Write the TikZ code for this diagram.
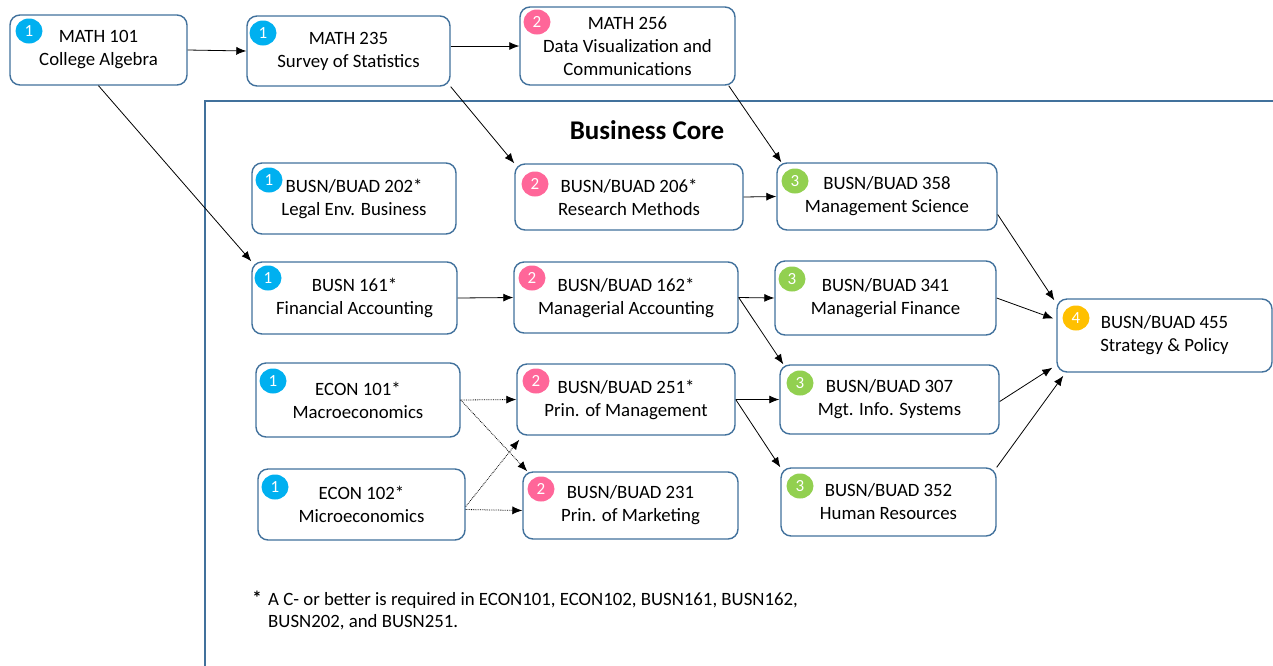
\documentclass[tikz,border=0pt]{standalone}
\usepackage{fontspec}
\setmainfont{Carlito}
\usetikzlibrary{arrows.meta,shapes.geometric}
\definecolor{bord}{HTML}{41719C}
\definecolor{bcyan}{HTML}{00B0F0}
\definecolor{bpink}{HTML}{FF6699}
\definecolor{bgreen}{HTML}{92D050}
\definecolor{byellow}{HTML}{FFC000}
\newcommand\crs[6]{%
  \node[box, minimum width={#4-#2}, minimum height={#5-#3}] (#1) at ({(#2+#4)/2},{(#3+#5)/2}) {#6};}
\begin{document}
\begin{tikzpicture}[x=1pt,y=-1pt,
  box/.style={draw=bord, line width=1.4pt, rounded corners=10pt, fill=white, align=center,
    inner sep=0pt, font=\fontsize{18.8}{23}\selectfont},
  badge/.style={ellipse, fill=#1, text=white, minimum width=27pt, minimum height=25pt,
    inner sep=0pt, font=\fontsize{17}{17}\selectfont},
  link/.style={-{Latex[length=10pt,width=8pt]}, line width=0.8pt},
  dlink/.style={link, densely dotted}]
\useasboundingbox (0,0) rectangle (1273,665);
\clip (0,0) rectangle (1273,665);
% frame
\draw[bord, line width=1.8pt] (205,680) -- (205,101) -- (1290,101);
\node[font=\fontsize{27}{32}\selectfont\bfseries] (title) at (647,130) {Business Core};
% boxes
\crs{m101}{10}{15}{187}{85}{MATH 101\\College Algebra}
\crs{m235}{247}{16}{450}{86}{MATH 235\\Survey of Statistics}
\crs{m256}{520}{7}{735}{85}{MATH 256\\Data Visualization and\\Communications}
\crs{b202}{252}{163}{456}{234}{BUSN/BUAD 202*\\Legal Env. Business}
\crs{b206}{515}{164}{743}{230}{BUSN/BUAD 206*\\Research Methods}
\crs{b358}{777}{163}{997}{230}{BUSN/BUAD 358\\Management Science}
\crs{b161}{252}{262}{457}{334}{BUSN 161*\\Financial Accounting}
\crs{b162}{514}{262}{738}{333}{BUSN/BUAD 162*\\Managerial Accounting}
\crs{b341}{775}{261}{996}{335}{BUSN/BUAD 341\\Managerial Finance}
\crs{b455}{1057}{299}{1272}{372}{BUSN/BUAD 455\\Strategy \& Policy}
\crs{e101}{256}{363}{460}{437}{ECON 101*\\Macroeconomics}
\crs{b251}{517}{364}{735}{435}{BUSN/BUAD 251*\\Prin. of Management}
\crs{b307}{780}{365}{999}{434}{BUSN/BUAD 307\\Mgt. Info. Systems}
\crs{e102}{258}{469}{465}{540}{ECON 102*\\Microeconomics}
\crs{b231}{523}{472}{738}{539}{BUSN/BUAD 231\\Prin. of Marketing}
\crs{b352}{781}{468}{996}{536}{BUSN/BUAD 352\\Human Resources}
% badges
\node[badge=bcyan] (m101b) at (29,31) {1};
\node[badge=bcyan] (m235b) at (263,33) {1};
\node[badge=bpink] (m256b) at (537,22) {2};
\node[badge=bcyan] (b202b) at (269,180) {1};
\node[badge=bpink] (b206b) at (535,184) {2};
\node[badge=bgreen] (b358b) at (795,181) {3};
\node[badge=bcyan] (b161b) at (268,278) {1};
\node[badge=bpink] (b162b) at (532,278) {2};
\node[badge=bgreen] (b341b) at (792,279) {3};
\node[badge=byellow] (b455b) at (1076,318) {4};
\node[badge=bcyan] (e101b) at (273,381) {1};
\node[badge=bpink] (b251b) at (536,381) {2};
\node[badge=bgreen] (b307b) at (800,383) {3};
\node[badge=bcyan] (e102b) at (275,487) {1};
\node[badge=bpink] (b231b) at (541,489) {2};
\node[badge=bgreen] (b352b) at (800,486) {3};
% footnote
\node[font=\fontsize{18.8}{22}\selectfont\bfseries] (star) at (257,598) {*};
\node[anchor=west, align=left, font=\fontsize{18.8}{22}\selectfont, inner sep=0pt] (note) at (268,611)
  {A C- or better is required in ECON101, ECON102, BUSN161, BUSN162,\\BUSN202, and BUSN251.};
% connectors
\draw[link] (m101.east) -- (m235.west);
\draw[link] (m235.east |- m256.west) -- (m256.west);
\draw[link] (m101.south) -- (b161.north west);
\draw[link] (m235.south east) -- (b206.north west);
\draw[link] ([xshift=-7pt]m256.south east) -- ([xshift=5pt]b358.north west);
\draw[link] (b206.east) -- (b358.west);
\draw[link] ([yshift=-18pt]b358.east) -- ([xshift=-2pt,yshift=-2pt]b455.north west);
\draw[link] (b341.east) -- ([xshift=-3pt,yshift=17pt]b455.west);
\draw[link] ([yshift=-2pt]b307.east) -- ([xshift=-4pt,yshift=5pt]b455.south west);
\draw[link] (b352.north east) -- ([xshift=7pt,yshift=-3pt]b455.south west);
\draw[link] (b161.east) -- (b162.west);
\draw[link] (b162.east) -- (b341.west);
\draw[link] (b162.east) -- ([xshift=4pt]b307.north west);
\draw[link] (b251.east) -- (b307.west);
\draw[link] (b251.east) -- (b352.north west);
\draw[dlink] (e101.east) -- (b251.west);
\draw[dlink] (e101.east) -- ([xshift=5pt]b231.north west);
\draw[dlink] ([yshift=-2pt]e102.east) -- ([xshift=3pt,yshift=-4pt]b251.south west);
\draw[dlink] ([yshift=-5pt]e102.east) -- ([yshift=-5pt]b231.west);
\end{tikzpicture}
\end{document}
